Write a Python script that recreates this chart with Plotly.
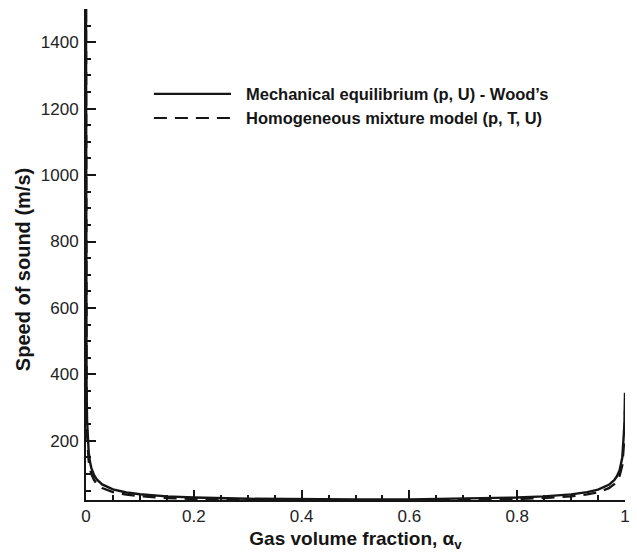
import plotly.graph_objects as go

# Gas volume fraction samples
alpha = [0, 0.0002, 0.0005, 0.001, 0.002, 0.003, 0.005, 0.0075, 0.01, 0.015, 0.02, 0.03,
         0.05, 0.075, 0.1, 0.15, 0.2, 0.3, 0.4, 0.5, 0.6, 0.7, 0.8, 0.85, 0.9, 0.93, 0.95,
         0.97, 0.98, 0.985, 0.99, 0.995, 0.998, 0.999, 1.0]

# Mechanical equilibrium (p, U) - Wood's
c_wood = [1500, 728, 497, 362, 260, 213, 166, 136, 118, 96.7, 84, 69,
          54, 44.7, 39.3, 33.0, 29.4, 25.7, 24.0, 23.5, 24.0, 25.7, 29.4, 32.9, 39.0, 45.8, 53.4,
          67.7, 81.8, 93.3, 111.9, 150, 208.5, 251, 345]

# Homogeneous mixture model (p, T, U)
c_homog = [1500, 600, 420, 305, 220, 180, 140, 115, 100, 82, 71, 58,
           46, 38, 33.5, 28, 25, 22, 20.5, 20, 20.5, 22, 25, 28, 33, 39, 45.5,
           57.5, 69.5, 79, 95, 127, 177, 213, 290]

x_ticks = [0, 0.2, 0.4, 0.6, 0.8, 1]
x_tick_text = ["0", "0.2", "0.4", "0.6", "0.8", "1"]
y_ticks = [200, 400, 600, 800, 1000, 1200, 1400]

names = ["Mechanical equilibrium (p, U) - Wood\u2019s",
         "Homogeneous mixture model (p, T, U)"]

FONT = "Liberation Sans, Arial, Helvetica, sans-serif"
INK = "#151515"

fig = go.Figure()
fig.add_trace(go.Scatter(x=alpha, y=c_homog, mode="lines", name=names[1],
                         line=dict(color=INK, width=2.4, dash="13px,8px")))
fig.add_trace(go.Scatter(x=alpha, y=c_wood, mode="lines", name=names[0],
                         line=dict(color=INK, width=2.4)))

# Manual legend (line samples + bold labels)
leg_x0, leg_x1, leg_tx = 0.126, 0.269, 0.293
leg_y = [0.827, 0.778]
dashes = ["solid", "13px,8px"]
for yy, nm, ds in zip(leg_y, names, dashes):
    fig.add_shape(type="line", xref="paper", yref="paper", x0=leg_x0, x1=leg_x1,
                  y0=yy, y1=yy, line=dict(color=INK, width=2.2, dash=ds))
    fig.add_annotation(xref="paper", yref="paper", x=leg_tx, y=yy, xanchor="left",
                       yanchor="middle", showarrow=False, text="<b>%s</b>" % nm,
                       font=dict(family=FONT, size=16.5, color=INK))

# Y-axis title placed as a rotated annotation
fig.add_annotation(xref="paper", yref="paper", x=-0.117, y=0.470, xanchor="center",
                   yanchor="middle", showarrow=False, textangle=-90,
                   text="<b>Speed of sound (m/s)</b>",
                   font=dict(family=FONT, size=20, color=INK))

axis_common = dict(showline=True, linecolor=INK, linewidth=2, mirror=False,
                   showgrid=False, zeroline=False, ticks="inside", tickcolor=INK,
                   tickwidth=2, ticklen=10, automargin=False,
                   tickfont=dict(family=FONT, size=17, color="#222"))

fig.update_xaxes(range=[0, 1], tickvals=x_ticks, ticktext=x_tick_text,
                 minor=dict(ticks="inside", ticklen=5, tickwidth=1.5, tickcolor=INK, dtick=0.05, tick0=0),
                 title=dict(text="<b>Gas volume fraction, \u03b1<sub>v</sub></b>", standoff=6,
                            font=dict(family=FONT, size=19, color=INK)),
                 **axis_common)
fig.update_yaxes(range=[22, 1500], tickvals=y_ticks,
                 minor=dict(ticks="inside", ticklen=5, tickwidth=1.5, tickcolor=INK, dtick=50, tick0=0),
                 ticklabelstandoff=2,
                 **axis_common)

fig.update_layout(width=637, height=552, showlegend=False,
                  margin=dict(l=86, r=12, t=9, b=52, autoexpand=False),
                  paper_bgcolor="white", plot_bgcolor="white",
                  font=dict(family=FONT, color=INK))

fig.write_html("out.html")
